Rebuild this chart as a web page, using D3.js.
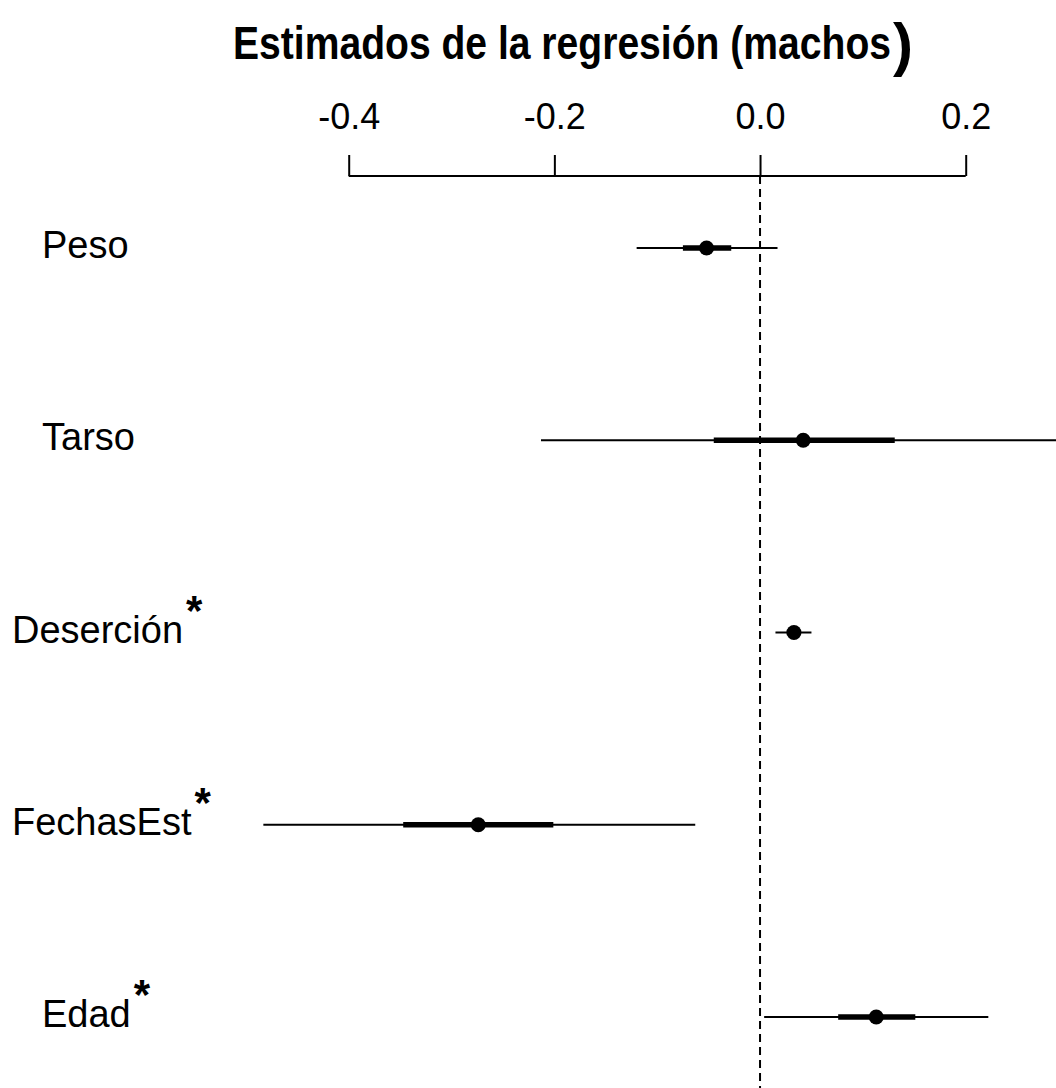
<!DOCTYPE html>
<html>
<head>
<meta charset="utf-8">
<script src="https://cdn.jsdelivr.net/npm/d3@7"></script>
<style>
  html, body { margin: 0; padding: 0; background: #fff; }
  svg { display: block; font-family: "Liberation Sans", Arial, sans-serif; }
</style>
</head>
<body>
<svg id="chart" width="1056" height="1088"></svg>
<script>
// Regression coefficients (males): point estimate, inner (thick) and outer (thin) intervals
const variables   = ["Peso", "Tarso", "Deserción", "FechasEst", "Edad"];
const estimates   = [-0.052, 0.042, 0.033, -0.274, 0.113];
const innerLow    = [-0.075, -0.045, 0.026, -0.347, 0.076];
const innerHigh   = [-0.028, 0.131, 0.039, -0.201, 0.151];
const outerLow    = [-0.120, -0.213, 0.015, -0.483, 0.004];
const outerHigh   = [0.017, 0.300, 0.050, -0.063, 0.222];
const significant = [false, false, true, true, true];
const tickValues  = [-0.4, -0.2, 0.0, 0.2];
const tickLabels  = ["-0.4", "-0.2", "0.0", "0.2"];

const W = 1056, H = 1088;
const svg = d3.select("#chart");

const x = d3.scaleLinear().domain([-0.4, 0.2]).range([348.7, 965.7]);
const y = d3.scalePoint().domain(variables).range([248, 1017]);
const axisY = 176;

const rows = variables.map((v, i) => ({
  name: v, est: estimates[i], lo1: innerLow[i], hi1: innerHigh[i],
  lo2: outerLow[i], hi2: outerHigh[i], sig: significant[i]
}));

// Title: one text element, the closing parenthesis set larger
const title = svg.append("text")
  .attr("x", 233).attr("y", 59)
  .attr("font-weight", "bold");
title.append("tspan")
  .attr("font-size", 47)
  .attr("textLength", 658).attr("lengthAdjust", "spacingAndGlyphs")
  .text("Estimados de la regresión (machos");
title.append("tspan")
  .attr("font-size", 60).attr("dy", 6).attr("dx", 2)
  .text(")");

// Top axis
const axis = d3.axisTop(x)
  .tickValues(tickValues)
  .tickFormat((d, i) => tickLabels[i])
  .tickSize(21)
  .tickSizeOuter(0)
  .tickPadding(26);

const gAxis = svg.append("g").attr("transform", `translate(0,${axisY})`).call(axis);
gAxis.select(".domain").attr("stroke", "#000").attr("stroke-width", 2)
  .attr("d", `M${x(-0.4)},0H${x(0.2)}`);
gAxis.selectAll(".tick line").attr("stroke", "#000").attr("stroke-width", 2);
gAxis.selectAll(".tick text")
  .attr("font-size", 36).attr("fill", "#000")
  .attr("font-family", "'Liberation Sans', Arial, sans-serif");

// Zero reference line
svg.append("line")
  .attr("x1", x(0)).attr("x2", x(0))
  .attr("y1", axisY).attr("y2", H)
  .attr("stroke", "#000").attr("stroke-width", 2)
  .attr("stroke-dasharray", "8,5");

svg.append("clipPath").attr("id", "plotclip")
  .append("rect").attr("x", 0).attr("y", 0).attr("width", W).attr("height", H);

const g = svg.append("g").attr("clip-path", "url(#plotclip)");

// Outer interval
g.selectAll("line.outer").data(rows).join("line")
  .attr("class", "outer")
  .attr("x1", d => x(d.lo2)).attr("x2", d => x(d.hi2))
  .attr("y1", d => y(d.name)).attr("y2", d => y(d.name))
  .attr("stroke", "#000").attr("stroke-width", 2.2);

// Inner interval
g.selectAll("line.inner").data(rows).join("line")
  .attr("class", "inner")
  .attr("x1", d => x(d.lo1)).attr("x2", d => x(d.hi1))
  .attr("y1", d => y(d.name)).attr("y2", d => y(d.name))
  .attr("stroke", "#000").attr("stroke-width", 5.5);

// Point estimates
g.selectAll("circle.est").data(rows).join("circle")
  .attr("class", "est")
  .attr("cx", d => x(d.est)).attr("cy", d => y(d.name))
  .attr("r", 7.5).attr("fill", "#000");

// Variable labels, with an asterisk for significant effects
const labelLeft = name => name.length > 6 ? 12 : 42;
const labels = svg.selectAll("text.varlab").data(rows).join("text")
  .attr("class", "varlab")
  .attr("x", d => labelLeft(d.name))
  .attr("y", d => y(d.name) + 10)
  .attr("font-size", 38)
  .attr("fill", "#000");
labels.append("tspan").text(d => d.name);
labels.filter(d => d.sig).append("tspan")
  .attr("dx", 3).attr("dy", -18)
  .attr("font-size", 42).attr("font-weight", "bold")
  .text("*");
</script>
</body>
</html>
